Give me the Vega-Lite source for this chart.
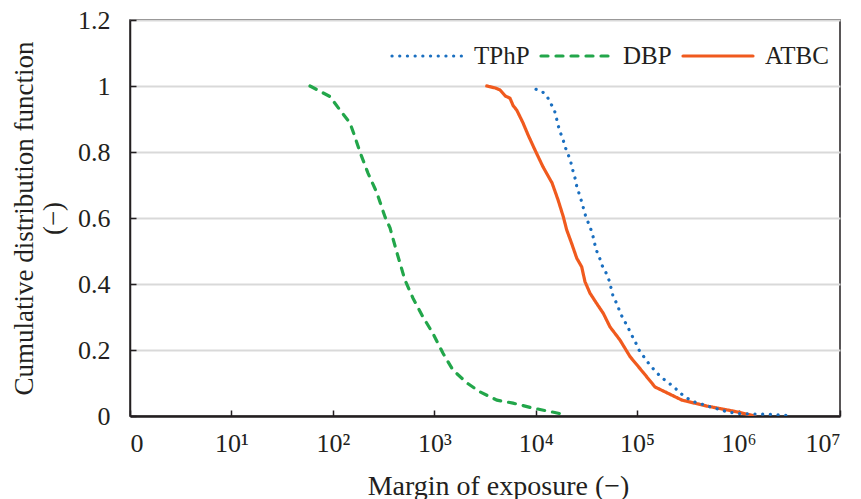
{
  "$schema": "https://vega.github.io/schema/vega-lite/v6.json",
  "width": 710,
  "height": 396,
  "autosize": {"type": "none"},
  "padding": {"left": 130, "top": 20, "right": 21, "bottom": 83},
  "background": "white",
  "config": {"view": {"stroke": "#231f20", "strokeWidth": 1.5}, "font": "Liberation Serif"},
  "data": {"values": [
    {"series": "DBP", "moe": 59.5, "cdf": 1.0},
    {"series": "DBP", "moe": 93.7, "cdf": 0.968},
    {"series": "DBP", "moe": 117.6, "cdf": 0.927},
    {"series": "DBP", "moe": 147.5, "cdf": 0.888},
    {"series": "DBP", "moe": 165, "cdf": 0.846},
    {"series": "DBP", "moe": 185, "cdf": 0.8},
    {"series": "DBP", "moe": 222, "cdf": 0.736},
    {"series": "DBP", "moe": 272, "cdf": 0.676},
    {"series": "DBP", "moe": 327, "cdf": 0.603},
    {"series": "DBP", "moe": 366, "cdf": 0.57},
    {"series": "DBP", "moe": 429, "cdf": 0.494},
    {"series": "DBP", "moe": 514, "cdf": 0.412},
    {"series": "DBP", "moe": 617, "cdf": 0.357},
    {"series": "DBP", "moe": 774, "cdf": 0.3},
    {"series": "DBP", "moe": 971, "cdf": 0.25},
    {"series": "DBP", "moe": 1219, "cdf": 0.19},
    {"series": "DBP", "moe": 1529, "cdf": 0.139},
    {"series": "DBP", "moe": 2100, "cdf": 0.1},
    {"series": "DBP", "moe": 2823, "cdf": 0.073},
    {"series": "DBP", "moe": 4152, "cdf": 0.048},
    {"series": "DBP", "moe": 5970, "cdf": 0.039},
    {"series": "DBP", "moe": 9400, "cdf": 0.024},
    {"series": "DBP", "moe": 20340, "cdf": 0.003},

    {"series": "ATBC", "moe": 3290, "cdf": 1.0},
    {"series": "ATBC", "moe": 4000, "cdf": 0.994},
    {"series": "ATBC", "moe": 4446, "cdf": 0.988},
    {"series": "ATBC", "moe": 5000, "cdf": 0.97},
    {"series": "ATBC", "moe": 5575, "cdf": 0.963},
    {"series": "ATBC", "moe": 6000, "cdf": 0.94},
    {"series": "ATBC", "moe": 6500, "cdf": 0.927},
    {"series": "ATBC", "moe": 7500, "cdf": 0.888},
    {"series": "ATBC", "moe": 8400, "cdf": 0.852},
    {"series": "ATBC", "moe": 9840, "cdf": 0.806},
    {"series": "ATBC", "moe": 11800, "cdf": 0.755},
    {"series": "ATBC", "moe": 14500, "cdf": 0.706},
    {"series": "ATBC", "moe": 16600, "cdf": 0.655},
    {"series": "ATBC", "moe": 18700, "cdf": 0.604},
    {"series": "ATBC", "moe": 20200, "cdf": 0.564},
    {"series": "ATBC", "moe": 22600, "cdf": 0.523},
    {"series": "ATBC", "moe": 25400, "cdf": 0.478},
    {"series": "ATBC", "moe": 28400, "cdf": 0.452},
    {"series": "ATBC", "moe": 30600, "cdf": 0.407},
    {"series": "ATBC", "moe": 34300, "cdf": 0.372},
    {"series": "ATBC", "moe": 39900, "cdf": 0.341},
    {"series": "ATBC", "moe": 46400, "cdf": 0.311},
    {"series": "ATBC", "moe": 54000, "cdf": 0.27},
    {"series": "ATBC", "moe": 67800, "cdf": 0.23},
    {"series": "ATBC", "moe": 85100, "cdf": 0.18},
    {"series": "ATBC", "moe": 114000, "cdf": 0.133},
    {"series": "ATBC", "moe": 150000, "cdf": 0.088},
    {"series": "ATBC", "moe": 277000, "cdf": 0.048},
    {"series": "ATBC", "moe": 488000, "cdf": 0.03},
    {"series": "ATBC", "moe": 882000, "cdf": 0.015},
    {"series": "ATBC", "moe": 1450000, "cdf": 0.0},

    {"series": "TPhP", "moe": 10070, "cdf": 0.99},
    {"series": "TPhP", "moe": 11600, "cdf": 0.983},
    {"series": "TPhP", "moe": 13000, "cdf": 0.968},
    {"series": "TPhP", "moe": 13800, "cdf": 0.95},
    {"series": "TPhP", "moe": 15100, "cdf": 0.932},
    {"series": "TPhP", "moe": 15850, "cdf": 0.909},
    {"series": "TPhP", "moe": 16500, "cdf": 0.885},
    {"series": "TPhP", "moe": 17300, "cdf": 0.862},
    {"series": "TPhP", "moe": 18450, "cdf": 0.842},
    {"series": "TPhP", "moe": 19450, "cdf": 0.816},
    {"series": "TPhP", "moe": 20800, "cdf": 0.794},
    {"series": "TPhP", "moe": 22100, "cdf": 0.771},
    {"series": "TPhP", "moe": 23200, "cdf": 0.745},
    {"series": "TPhP", "moe": 24400, "cdf": 0.721},
    {"series": "TPhP", "moe": 25350, "cdf": 0.697},
    {"series": "TPhP", "moe": 28400, "cdf": 0.649},
    {"series": "TPhP", "moe": 31300, "cdf": 0.602},
    {"series": "TPhP", "moe": 33700, "cdf": 0.579},
    {"series": "TPhP", "moe": 36100, "cdf": 0.554},
    {"series": "TPhP", "moe": 39300, "cdf": 0.505},
    {"series": "TPhP", "moe": 42400, "cdf": 0.481},
    {"series": "TPhP", "moe": 45000, "cdf": 0.457},
    {"series": "TPhP", "moe": 49300, "cdf": 0.434},
    {"series": "TPhP", "moe": 53200, "cdf": 0.409},
    {"series": "TPhP", "moe": 58200, "cdf": 0.36},
    {"series": "TPhP", "moe": 63800, "cdf": 0.338},
    {"series": "TPhP", "moe": 67800, "cdf": 0.313},
    {"series": "TPhP", "moe": 74100, "cdf": 0.291},
    {"series": "TPhP", "moe": 80700, "cdf": 0.27},
    {"series": "TPhP", "moe": 88400, "cdf": 0.245},
    {"series": "TPhP", "moe": 96800, "cdf": 0.222},
    {"series": "TPhP", "moe": 104300, "cdf": 0.2},
    {"series": "TPhP", "moe": 116800, "cdf": 0.179},
    {"series": "TPhP", "moe": 130900, "cdf": 0.158},
    {"series": "TPhP", "moe": 150000, "cdf": 0.137},
    {"series": "TPhP", "moe": 170600, "cdf": 0.119},
    {"series": "TPhP", "moe": 196900, "cdf": 0.104},
    {"series": "TPhP", "moe": 230700, "cdf": 0.088},
    {"series": "TPhP", "moe": 264300, "cdf": 0.07},
    {"series": "TPhP", "moe": 307600, "cdf": 0.055},
    {"series": "TPhP", "moe": 363700, "cdf": 0.043},
    {"series": "TPhP", "moe": 432900, "cdf": 0.036},
    {"series": "TPhP", "moe": 522400, "cdf": 0.028},
    {"series": "TPhP", "moe": 626600, "cdf": 0.021},
    {"series": "TPhP", "moe": 763700, "cdf": 0.013},
    {"series": "TPhP", "moe": 957200, "cdf": 0.008},
    {"series": "TPhP", "moe": 1387000, "cdf": 0.006},
    {"series": "TPhP", "moe": 1995000, "cdf": 0.005},
    {"series": "TPhP", "moe": 2937000, "cdf": 0.002}
  ]},
  "mark": {"type": "line", "strokeWidth": 3.2, "strokeCap": "round", "clip": true},
  "encoding": {
    "x": {
      "field": "moe", "type": "quantitative",
      "scale": {"type": "log", "domain": [1, 10000000]},
      "axis": {
        "values": [1, 10, 100, 1000, 10000, 100000, 1000000, 10000000],
        "labelExpr": "datum.value == 1 ? '0' : '10' + ['', '¹', '²', '³', '⁴', '⁵', '⁶', '⁷'][round(log(datum.value) / LN10)]",
        "grid": false,
        "tickSize": -6, "tickColor": "#231f20", "tickWidth": 1.5,
        "domainColor": "#231f20", "domainWidth": 2.5,
        "labelFont": "Liberation Serif", "labelFontSize": 26, "labelColor": "#231f20", "labelPadding": 20,
        "title": "Margin of exposure (−)",
        "titleFont": "Liberation Serif", "titleFontSize": 28, "titleFontWeight": "normal", "titleColor": "#231f20",
        "titlePadding": 16, "titleX": 368
      }
    },
    "y": {
      "field": "cdf", "type": "quantitative",
      "scale": {"domain": [0, 1.2]},
      "axis": {
        "values": [0, 0.2, 0.4, 0.6, 0.8, 1, 1.2],
        "format": "~g",
        "grid": true, "gridColor": "#d9d9d9", "gridWidth": 2,
        "tickSize": -6, "tickColor": "#231f20", "tickWidth": 1.5,
        "domainColor": "#231f20", "domainWidth": 1.5,
        "labelFont": "Liberation Serif", "labelFontSize": 26, "labelColor": "#231f20", "labelPadding": 26,
        "title": ["Cumulative  distribution function", "(−)"],
        "titleFont": "Liberation Serif", "titleFontSize": 27, "titleFontWeight": "normal", "titleColor": "#231f20",
        "titleLineHeight": 29, "titlePadding": 10
      }
    },
    "color": {
      "field": "series", "type": "nominal",
      "scale": {"domain": ["TPhP", "DBP", "ATBC"], "range": ["#1a6fc0", "#22a64a", "#f05a1e"]},
      "legend": {
        "orient": "none", "legendX": 260, "legendY": -1, "direction": "horizontal", "title": null,
        "padding": 0, "symbolType": "stroke", "symbolSize": 4900, "symbolStrokeWidth": 3.2,
        "labelFont": "Liberation Serif", "labelFontSize": 25, "labelColor": "#231f20",
        "labelOffset": 10, "columnPadding": 4,
        "encode": {"symbols": {"update": {"strokeCap": {"value": "round"}}}}
      }
    },
    "strokeDash": {
      "field": "series", "type": "nominal",
      "scale": {"domain": ["TPhP", "DBP", "ATBC"], "range": [[0.1, 7.6], [7, 8], [1, 0]]},
      "legend": {
        "orient": "none", "legendX": 260, "legendY": -1, "direction": "horizontal", "title": null,
        "padding": 0, "symbolType": "stroke", "symbolSize": 4900, "symbolStrokeWidth": 3.2,
        "labelFont": "Liberation Serif", "labelFontSize": 25, "labelColor": "#231f20",
        "labelOffset": 10, "columnPadding": 4,
        "encode": {"symbols": {"update": {"strokeCap": {"value": "round"}}}}
      }
    }
  }
}
